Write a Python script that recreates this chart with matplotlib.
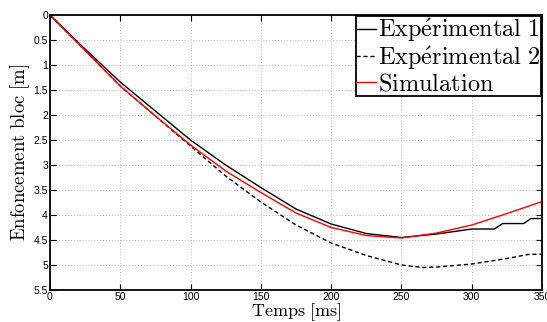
import numpy as np
import matplotlib
matplotlib.use("Agg")
import matplotlib.pyplot as plt

plt.rcParams['mathtext.fontset'] = 'cm'

# values
t_exp1 = [0, 25, 50, 75, 100, 125, 150, 175, 200, 225, 250, 275, 300, 316, 322, 337, 342, 350]
d_exp1 = [0, 0.68, 1.34, 1.92, 2.5, 3.0, 3.45, 3.88, 4.18, 4.37, 4.45, 4.38, 4.28, 4.28, 4.17, 4.17, 4.07, 4.07]

t_exp2 = [0, 25, 50, 75, 100, 125, 150, 175, 200, 225, 250, 265, 275, 300, 325, 340, 350]
d_exp2 = [0, 0.71, 1.42, 2.02, 2.62, 3.22, 3.74, 4.2, 4.56, 4.81, 5.0, 5.05, 5.04, 4.98, 4.87, 4.79, 4.78]

t_sim = [0, 25, 50, 75, 100, 125, 150, 175, 200, 225, 250, 275, 300, 325, 350]
d_sim = [0, 0.71, 1.42, 2.02, 2.6, 3.12, 3.55, 3.96, 4.25, 4.41, 4.46, 4.36, 4.2, 3.97, 3.73]

labels = [r'$\mathrm{Exp\acute{e}rimental\ 1}$',
          r'$\mathrm{Exp\acute{e}rimental\ 2}$',
          r'$\mathrm{Simulation}$']

xticks = np.arange(0, 351, 50)
yticks = np.arange(0, 5.51, 0.5)

fig = plt.figure(figsize=(5.47, 3.22), dpi=100)
ax = fig.add_axes([0.0914, 0.0994, 0.8996, 0.8536])

ax.plot(t_exp1, d_exp1, color='black', lw=1.0, label=labels[0])
ax.plot(t_exp2, d_exp2, color='black', lw=1.0, linestyle=(0, (3, 2)), label=labels[1])
ax.plot(t_sim, d_sim, color='red', lw=1.0, label=labels[2])

ax.set_xlim(0, 350)
ax.set_ylim(5.5, 0)
ax.set_xticks(xticks)
ax.set_yticks(yticks)
ax.set_yticklabels(['%g' % v for v in yticks])
ax.tick_params(direction='in', length=4, width=0.8, top=True, right=True,
               labelsize=7.5, pad=1.5)
for lab in ax.get_xticklabels() + ax.get_yticklabels():
    lab.set_family('Liberation Sans')
for s in ax.spines.values():
    s.set_linewidth(1.3)

ax.grid(True, color='#b8b8b8', linestyle=(0, (1, 2)), linewidth=0.7)

ax.set_xlabel(r'$\mathrm{Temps\ [ms]}$', fontsize=13, labelpad=-0.5)
ax.set_ylabel(r'$\mathrm{Enfoncement\ bloc\ [m]}$', fontsize=13.5, labelpad=1)

leg = ax.legend(loc='upper right', bbox_to_anchor=(1.0, 1.0), borderaxespad=0.05,
                fontsize=17.5, handlelength=0.8, handletextpad=0.1,
                borderpad=0.0, labelspacing=0.0, fancybox=False,
                framealpha=1, edgecolor='black')
leg.get_frame().set_linewidth(1.3)

fig.savefig('out.png', dpi=100)
